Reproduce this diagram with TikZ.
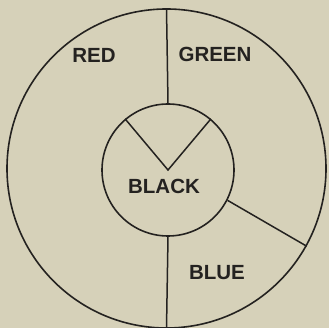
\documentclass[tikz,border=0pt]{standalone}
\usepackage{fontspec}
\setsansfont{Liberation Sans}
\definecolor{paper}{HTML}{D6D1B9}
\definecolor{ink}{HTML}{242220}
\begin{document}
\begin{tikzpicture}[x=1pt,y=-1pt,
  ring/.style={circle,draw=ink,line width=1.6pt,inner sep=0pt},
  edge/.style={draw=ink,line width=1.5pt},
  lbl/.style={text=ink,font=\sffamily\bfseries\fontsize{20.5}{20.5}\selectfont,inner sep=0pt}]
\fill[paper] (0,0) rectangle (329,328);
\useasboundingbox (0,0) rectangle (329,328);
\begin{scope}
\clip (0,0) rectangle (329,328);
\node[ring,minimum size=319pt] (outer) at (166.5,168.5) {};
\node[ring,minimum size=132pt] (inner) at (168,170) {};
\coordinate (c) at (168,170);
\path[edge] (outer.north) -- (inner.north);
\path[edge] (inner.south) -- (outer.south);
\path[edge] (inner.130) -- (c) -- (inner.50);
\path[edge] (inner.-27) -- (outer.-29);
\node[lbl] (red) at (94,55) {RED};
\node[lbl] (green) at (215,54) {GREEN};
\node[lbl] (black) at (164,186) {BLACK};
\node[lbl] (blue) at (217,273) {BLUE};
\end{scope}
\end{tikzpicture}
\end{document}
